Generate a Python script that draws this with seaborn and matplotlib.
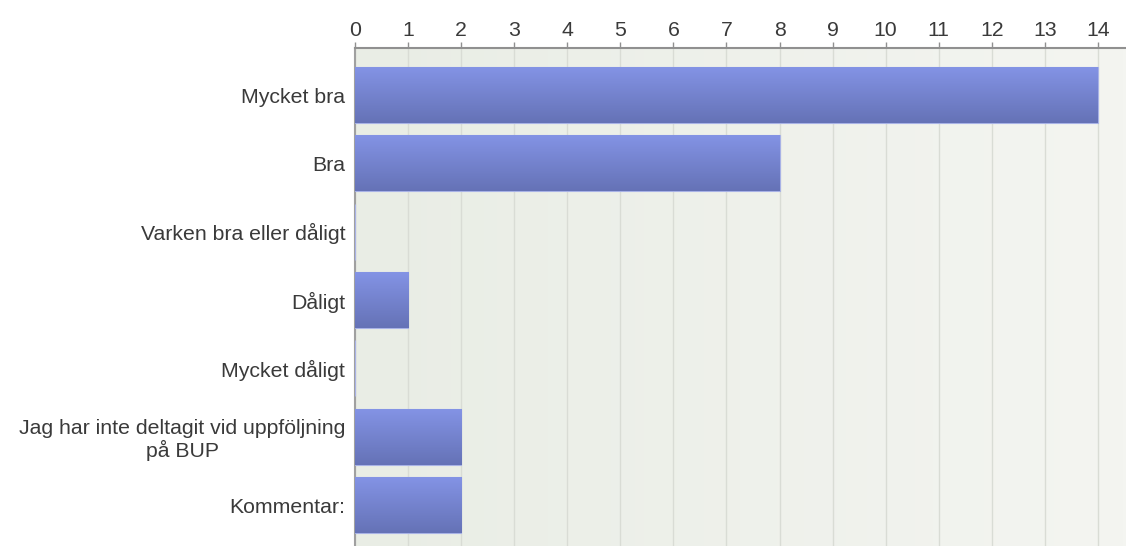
import numpy as np
import pandas as pd
import matplotlib
matplotlib.use("Agg")
import matplotlib.pyplot as plt
import seaborn as sns
from matplotlib.colors import LinearSegmentedColormap

categories = ["Mycket bra", "Bra", "Varken bra eller dåligt", "Dåligt",
              "Mycket dåligt", "Jag har inte deltagit vid uppföljning\npå BUP", "Kommentar:"]
counts = [14, 8, 0, 1, 0, 2, 2]
xticks = list(range(0, 15))

sns.set_theme(style="white")
plt.rcParams['font.family'] = ['Liberation Sans', 'DejaVu Sans']

df = pd.DataFrame({"cat": categories, "n": counts})

fig = plt.figure(figsize=(11.26, 5.46), dpi=100)
ax = fig.add_axes([355/1126, 0, 1 - 355/1126, 1 - 48/546])

sns.barplot(data=df, y="cat", x="n", orient="h", color="#7381d0",
            width=0.82, ax=ax, edgecolor="#a8b2e6", linewidth=0.8, zorder=3)

ax.set_xlim(0, 14.53)
ax.set_ylim(6.6, -0.69)

# background gradient
bg = LinearSegmentedColormap.from_list("bg", ["#e9ede5", "#f4f5f1"])
ax.imshow(np.linspace(0, 1, 256).reshape(1, -1), cmap=bg, aspect="auto",
          extent=[0, 14.53, 6.6, -0.69], zorder=0)

# bar gradient overlay
grad = LinearSegmentedColormap.from_list("bar", ["#8494e6", "#6572b6"])
for p in ax.patches:
    w = p.get_width()
    if w <= 0:
        continue
    x0, y0, h = p.get_x(), p.get_y(), p.get_height()
    im = ax.imshow(np.linspace(0, 1, 256).reshape(-1, 1), cmap=grad, aspect="auto",
                   extent=[x0, x0 + w, y0 + h, y0], zorder=4)
    im.set_clip_path(p)

ax.set_xticks(xticks)
ax.xaxis.tick_top()
ax.tick_params(axis="x", top=True, bottom=False, length=4, width=1, color="#909090",
               labelsize=15.3, labelcolor="#3a3a3a", pad=2)
ax.tick_params(axis="y", left=False, length=0, labelsize=15.3, labelcolor="#3a3a3a", pad=7)
for lbl in ax.get_yticklabels():
    lbl.set_horizontalalignment("right")
    lbl.set_multialignment("center")
    lbl.set_linespacing(1.15)
ax.grid(axis="x", color="#d9dcd5", linewidth=1, zorder=1)
ax.set_axisbelow(True)
ax.set_xlabel("")
ax.set_ylabel("")
for s in ["right", "bottom"]:
    ax.spines[s].set_visible(False)
ax.spines["top"].set_color("#909090")
ax.spines["top"].set_linewidth(1.5)
ax.spines["left"].set_color("#a0a0a0")
ax.spines["left"].set_linewidth(1.5)

fig.savefig("out.png", dpi=100)
